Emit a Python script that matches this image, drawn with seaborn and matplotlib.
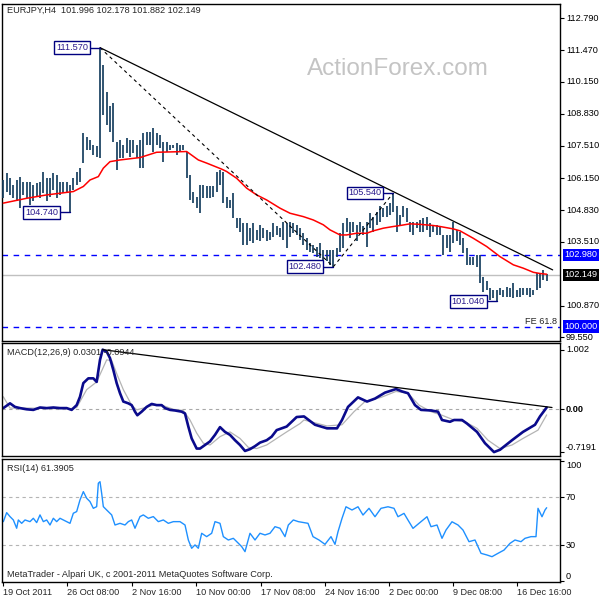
import matplotlib
matplotlib.use('Agg')
import matplotlib.pyplot as plt
import seaborn as sns

# --- price bars (H4, high / low), one entry per bar ---
high = [106.08, 106.36, 106.15, 105.88, 106.08, 106.22, 106.01, 106.01, 106.01, 105.88,
        105.95, 106.01, 106.43, 106.15, 106.15, 106.36, 106.29, 106.01, 106.01, 106.01,
        105.88, 106.15, 106.43, 106.57, 108.02, 107.88, 107.74, 107.54, 107.47, 111.57,
        110.85, 109.75, 109.13, 109.26, 107.67, 107.74, 107.54, 107.81, 107.74, 107.74,
        107.54, 107.74,
        108.02, 108.09, 108.09, 108.23, 108.02, 107.95, 107.67, 107.67, 107.54, 107.54,
        107.60, 107.54, 107.54, 107.26, 106.29, 105.60, 105.39, 105.88, 105.88, 105.81,
        105.81, 105.81, 106.43, 106.50, 106.43, 105.39, 105.25, 105.53, 104.49, 104.49,
        104.29, 104.29, 104.08, 104.29, 104.01, 104.22, 104.08, 104.01, 103.94, 104.29,
        104.15, 104.08,
        104.35, 104.29, 104.35, 104.29, 104.22, 104.08, 103.87, 103.66, 103.46, 103.39,
        103.32, 103.46, 103.18, 103.18, 103.18, 103.18, 103.25, 103.87, 104.29, 104.49,
        104.35, 104.35, 104.22, 104.35, 104.15, 104.35, 104.70, 104.56, 104.77, 104.98,
        104.91, 104.98, 105.12, 105.54, 104.98, 104.63, 104.98, 104.91, 104.35, 104.35,
        104.35, 104.42,
        104.49, 104.56, 104.29, 104.22, 104.22, 104.15, 103.80, 103.80, 103.80, 104.35,
        104.01, 103.94, 103.66, 103.25, 102.90, 102.90, 102.97, 102.97, 102.07, 101.87,
        101.59, 101.52, 101.52, 101.59, 101.52, 101.66, 101.59, 101.80, 101.52, 101.59,
        101.59, 101.59, 101.59, 101.52, 102.21, 102.21, 102.35, 102.18]
low = [105.32, 105.60, 105.46, 105.32, 105.19, 104.91, 105.46, 105.32, 105.05, 105.19,
       105.39, 105.32, 105.53, 105.19, 105.39, 105.67, 105.32, 105.46, 105.53, 105.60,
       104.74, 105.67, 105.88, 106.01, 106.78, 107.33, 107.33, 107.12, 107.05, 106.98,
       108.78, 108.37, 108.09, 107.67, 106.50, 106.98, 106.98, 107.19, 107.05, 107.19,
       106.98, 106.57,
       106.57, 107.54, 107.54, 107.26, 107.54, 107.40, 106.84, 107.26, 107.33, 107.40,
       107.12, 107.26, 107.33, 106.15, 105.25, 105.12, 104.91, 104.70, 105.32, 105.32,
       105.32, 105.39, 105.60, 105.88, 105.12, 104.91, 104.91, 104.49, 104.08, 103.94,
       103.39, 103.39, 103.53, 103.46, 103.59, 103.53, 103.66, 103.53, 103.59, 103.73,
       103.80, 103.73,
       103.59, 103.25, 103.73, 103.87, 103.80, 103.59, 103.39, 103.18, 103.11, 103.04,
       102.90, 102.83, 102.63, 102.70, 102.56, 102.48, 102.90, 103.11, 103.25, 103.94,
       103.66, 103.94, 103.53, 103.94, 103.80, 103.32, 104.08, 103.94, 104.22, 104.35,
       104.56, 104.56, 104.63, 104.77, 103.94, 104.22, 104.56, 104.35, 103.94, 103.80,
       104.08, 103.94,
       103.94, 104.01, 103.73, 103.94, 103.80, 103.80, 102.97, 103.25, 103.11, 103.46,
       103.53, 103.39, 103.04, 102.56, 102.56, 102.56, 102.49, 101.80, 101.45, 101.52,
       101.10, 101.17, 101.04, 101.31, 101.24, 101.24, 101.24, 101.17, 101.24, 101.24,
       101.31, 101.31, 101.24, 101.31, 101.52, 101.59, 101.93, 101.88]
bar_idx = list(range(len(high)))

# moving average (red)
ma_x = [0, 7, 13, 21, 24, 26, 28.5, 30, 32, 35, 41, 46, 55, 58.5, 61, 65.5, 67, 70, 73, 76,
        79, 83, 86, 90, 93, 96, 98, 101, 103, 106, 109, 111, 114, 117, 119, 122, 125, 129,
        131, 135, 137, 141, 145, 149, 153, 156, 159, 161, 163]
ma_y = [105.12, 105.32, 105.46, 105.60, 105.81, 106.08, 106.22, 106.57, 106.84, 106.91,
        107.01, 107.23, 107.26, 106.91, 106.78, 106.53, 106.43, 106.15, 105.74, 105.46,
        105.25, 104.91, 104.70, 104.56, 104.42, 104.22, 104.01, 103.80, 103.80, 103.87,
        103.87, 103.97, 104.08, 104.15, 104.19, 104.26, 104.24, 104.19, 104.15, 104.05,
        103.97, 103.66, 103.32, 102.90, 102.56, 102.42, 102.25, 102.20, 102.17]

# trend line and FE points
trend_x = [29, 164.8]
trend_y = [111.57, 102.35]
fe_x = [29, 99, 117]
fe_y = [111.57, 102.48, 105.54]

# swing labels
tag_bars = [29, 20, 99, 117, 148]
tag_prices = [111.57, 104.74, 102.48, 105.54, 101.04]

price_ticks = [112.79, 111.47, 110.15, 108.83, 107.51, 106.15, 104.83, 103.51, 100.87, 99.55]
level_blue = [102.98, 100.0]
last_price = 102.149

# MACD(12,26,9)
macd_x = [0, 2, 3.5, 5, 7, 9, 11, 13, 15, 17, 19, 20.5, 22, 23, 24, 25.5, 27, 28, 29, 29.8,
          31, 32, 33, 34, 35, 36, 37.5, 38.5, 39.5, 40.2, 41.5, 43, 44.5, 46, 47.5, 48.5, 50,
          51.5, 53.5, 54.5, 55.5, 56.5, 58, 59, 60.5, 62, 63.5, 65, 66.5, 68, 69.5, 71, 72.5,
          74, 75.5, 77, 79, 80.5, 82, 83.5, 85, 86.5, 88, 90.2, 93.5, 97.1, 100.1, 101.6,
          103.4, 106.4, 109.1, 111.5, 114.5, 117.8, 119.6, 121.4, 123.5, 125.3, 128.3, 130.4,
          131.6, 134, 135.2, 137.6, 139.1, 142.1, 144.5, 147.2, 149, 152.6, 155.9, 159.5, 161, 163]
macd = [0.02, 0.10, 0.04, 0.02, 0.0, -0.01, 0.03, 0.02, 0.03, 0.02, 0.02, -0.01, 0.07, 0.21,
        0.44, 0.52, 0.52, 0.46, 0.83, 1.002, 0.97, 0.86, 0.66, 0.44, 0.27, 0.13, 0.10, 0.07,
        -0.04, -0.10, -0.04, 0.04, 0.09, 0.07, 0.07, 0.02, -0.01, -0.02, -0.04, -0.07, -0.29,
        -0.49, -0.66, -0.66, -0.60, -0.54, -0.43, -0.30, -0.38, -0.43, -0.52, -0.60, -0.70,
        -0.67, -0.62, -0.56, -0.52, -0.46, -0.35, -0.32, -0.29, -0.21, -0.13, -0.12, -0.26,
        -0.32, -0.32, -0.18, 0.04, 0.20, 0.13, 0.18, 0.28, 0.34, 0.30, 0.27, 0.07, -0.01,
        -0.02, -0.04, -0.18, -0.21, -0.18, -0.18, -0.24, -0.38, -0.57, -0.7191, -0.68, -0.52,
        -0.38, -0.26, -0.12, 0.0301]
sig_x = [0, 2, 8, 14, 20, 22, 25, 28, 31, 32.5, 34, 36, 38.5, 40, 42, 45, 48, 51, 54, 56, 58,
         60, 62, 65, 68, 71, 73.5, 76, 79, 82, 85, 89, 90.2, 97.1, 101.6, 105.2, 108.5, 113.3,
         117.8, 121.4, 124.7, 128.3, 131.6, 135.2, 138.5, 142.1, 145.4, 149, 152.6, 155.9,
         160.4, 163]
signal = [0.21, 0.02, 0.02, 0.01, 0.01, 0.03, 0.33, 0.46, 0.83, 0.82, 0.60, 0.33, 0.07, -0.01,
          0.02, 0.07, 0.06, 0.0, -0.02, -0.18, -0.40, -0.57, -0.60, -0.46, -0.38, -0.49, -0.64,
          -0.66, -0.60, -0.49, -0.38, -0.24, -0.18, -0.28, -0.26, -0.04, 0.13, 0.20, 0.30,
          0.27, 0.07, -0.04, -0.10, -0.18, -0.21, -0.32, -0.52, -0.66, -0.60, -0.49, -0.35,
          -0.0944]
macd_tl_x = [29.8, 164.6]
macd_tl_y = [1.002, 0.03]

# RSI(14)
rsi_x = [0, 1, 2, 3, 4, 4.5, 5.5, 6.5, 8, 9, 10, 11, 12, 13, 14, 15, 16, 17, 18, 19, 20, 21, 22,
         23, 24, 25, 26, 27, 28, 28.5, 29, 29.5, 30, 31, 32.5, 33.5, 35, 36.5, 37.5, 38.5, 39.5,
         41, 42, 43.5, 45, 46.5, 48, 49.5, 51, 53, 54.5, 55.5, 56.5, 57.5, 58.5, 59.5, 61, 62.5,
         63.5, 65, 66, 67.5, 69, 70.5, 71.5, 72.5, 74, 75.5, 77, 78.5, 80, 81.5, 83, 84.5, 85.5,
         87, 88.5, 91.4, 92.9, 94.7, 96.5, 98.3, 99.5, 100.4, 101.6, 102.8, 104.6, 106.4,
         107.9, 109.7, 111.5, 113.3, 115.4, 117.2, 118.4, 120.2, 121.4, 122.9, 124.7, 127.1,
         128.3, 130.1, 131.6, 132.8, 134.6, 136.4, 137.9, 139.7, 141.5, 143.3, 145.1, 146.6,
         148.4, 150.2, 152, 153.5, 155.3, 156.5, 158.3, 159.8, 160.4, 161.6, 162.5, 163]
rsi = [49.8, 57.3, 54.0, 51.2, 44.3, 51.2, 48.4, 51.2, 49.8, 52.6, 49.0, 55.4, 49.8, 51.2, 47.0,
       52.6, 49.8, 52.6, 51.2, 49.8, 48.4, 56.8, 58.2, 67.9, 74.8, 69.3, 66.5, 60.9, 62.3, 81.8,
       83.1, 73.4, 62.3, 59.5, 55.4, 47.0, 48.4, 47.0, 49.8, 51.2, 44.3, 54.0, 55.4, 52.6, 54.0,
       49.8, 51.2, 48.4, 49.8, 49.8, 47.0, 34.5, 27.6, 30.4, 27.6, 40.1, 37.3, 40.1, 49.8, 48.4,
       37.3, 34.5, 35.9, 31.8, 29.0, 24.8, 40.1, 34.5, 40.1, 38.7, 40.1, 45.6, 44.3, 37.3, 47.0,
       51.2, 49.8, 48.4, 37.3, 34.5, 30.9, 37.3, 30.9, 41.4, 52.5, 62.2, 59.5, 62.2, 55.3, 60.9,
       53.9, 60.9, 62.2, 60.9, 53.9, 56.7, 51.1, 44.2, 48.4, 53.9, 45.6, 47.0, 35.9, 42.8, 49.7,
       47.0, 42.8, 33.1, 34.5, 23.4, 22.0, 20.6, 23.4, 26.1, 31.7, 34.5, 33.1, 35.9, 37.3, 37.3,
       60.9, 53.9, 59.5, 61.39]

date_ticks = [0, 19.1, 38.6, 57.8, 77.3, 96.5, 115.7, 134.9, 154.1]
date_labels = ['19 Oct 2011', '26 Oct 08:00', '2 Nov 16:00', '10 Nov 00:00', '17 Nov 08:00',
               '24 Nov 16:00', '2 Dec 00:00', '9 Dec 08:00', '16 Dec 16:00']

sns.set_style('white')
plt.rcParams['font.family'] = ['Liberation Sans', 'DejaVu Sans']
FS = 6.6
NAVY = '#000080'

fig = plt.figure(figsize=(6, 6), dpi=100)


def panel(top, bottom):
    # pixel rows -> figure fraction
    return fig.add_axes([1.5 / 600, 1 - bottom / 600, 558.5 / 600, (bottom - top) / 600])


ax = panel(4, 341)
ax_m = panel(343, 456)
ax_r = panel(459, 582)

for a in (ax, ax_m, ax_r):
    a.set_xlim(-0.55, 167)
    for s in a.spines.values():
        s.set_visible(True)
        s.set_color('black')
        s.set_linewidth(1)
    a.tick_params(axis='y', left=False, right=True, labelleft=False, labelright=False,
                  length=3, width=0.8, direction='out', color='black')


def right_label(a, val, txt, fc=None, va='center', weight='normal'):
    if fc is None:
        a.text(1.0107, val, txt, transform=a.get_yaxis_transform(), ha='left', va=va,
               fontsize=FS, color='black', clip_on=False, fontweight=weight)
    else:
        a.text(1.0075, val, txt, transform=a.get_yaxis_transform(), ha='left', va=va,
               fontsize=FS, color='white', clip_on=False,
               bbox=dict(boxstyle='square,pad=0.18', fc=fc, ec='none'))


# --- main price panel ---
ax.set_ylim(99.40, 113.38)
ax.vlines(bar_idx, low, high, color='#173f5f', lw=1.25, zorder=3)
sns.lineplot(x=ma_x, y=ma_y, ax=ax, color='#ff0000', lw=1.1, estimator=None, sort=False, zorder=4)
ax.axhline(last_price, color='#c0c0c0', lw=1, zorder=1)
for lv in level_blue:
    ax.axhline(lv, color='#0000ff', lw=1, ls=(0, (4, 4)), zorder=2)
ax.plot(trend_x, trend_y, color='black', lw=0.9, zorder=5)
ax.plot(fe_x, fe_y, color='black', lw=0.8, ls=(0, (3, 3)), zorder=5)

for b, p in zip(tag_bars, tag_prices):
    ax.plot([b - 3, b], [p, p], color=NAVY, lw=1, zorder=6)
    ax.text(b - 3.55, p, f'{p:.3f}', ha='right', va='center', fontsize=FS, color='#2b1a8c',
            zorder=7, bbox=dict(boxstyle='square,pad=0.2', fc='white', ec=NAVY, lw=1))

ax.set_yticks(price_ticks)
ax.set_xticks([])
for v in price_ticks:
    right_label(ax, v, f'{v:.3f}')
right_label(ax, 102.98, '102.980', fc='#0000ff')
right_label(ax, last_price, '102.149', fc='black')
right_label(ax, 100.0, '100.000', fc='#0000ff')

ax.text(0.0098, 0.982, 'EURJPY,H4  101.996 102.178 101.882 102.149', transform=ax.transAxes,
        ha='left', va='center', fontsize=FS)
ax.text(0.547, 0.807, 'ActionForex.com', transform=ax.transAxes, ha='left', va='center',
        fontsize=17.5, color='#c4c4c4', zorder=0)
ax.text(0.9946, 100.19, 'FE 61.8', transform=ax.get_yaxis_transform(), ha='right',
        va='center', fontsize=FS)
ax.set_xlabel('')
ax.set_ylabel('')

# --- MACD panel ---
ax_m.set_ylim(-0.785, 1.114)
ax_m.axhline(0, color='#a8a8a8', lw=0.8, ls=(0, (3, 3)))
sns.lineplot(x=sig_x, y=signal, ax=ax_m, color='#b4b4b4', lw=0.9, estimator=None, sort=False)
sns.lineplot(x=macd_x, y=macd, ax=ax_m, color='#0a0a8c', lw=1.9, estimator=None, sort=False)
ax_m.plot(macd_tl_x, macd_tl_y, color='black', lw=0.9)
ax_m.set_yticks([1.002, 0.0, -0.7191])
ax_m.set_xticks([])
right_label(ax_m, 1.002, '1.002')
right_label(ax_m, 0.0, '0.00', weight='bold')
right_label(ax_m, -0.7191, '-0.7191', va='bottom')
ax_m.text(0.0098, 0.912, 'MACD(12,26,9) 0.0301 -0.0944', transform=ax_m.transAxes,
          ha='left', va='center', fontsize=FS)
ax_m.set_xlabel('')
ax_m.set_ylabel('')

# --- RSI panel ---
ax_r.set_ylim(-0.5, 102.0)
for lv in (70, 30):
    ax_r.axhline(lv, color='#b4b4b4', lw=0.8, ls=(0, (3, 3)))
sns.lineplot(x=rsi_x, y=rsi, ax=ax_r, color='#1e90ff', lw=1.0, estimator=None, sort=False)
ax_r.set_yticks([100, 70, 30, 0])
right_label(ax_r, 100, '100', va='top')
right_label(ax_r, 70, '70')
right_label(ax_r, 30, '30')
right_label(ax_r, 0, '0', va='bottom')
ax_r.text(0.0098, 0.919, 'RSI(14) 61.3905', transform=ax_r.transAxes, ha='left', va='center',
          fontsize=FS)
ax_r.text(0.0098, 0.057, 'MetaTrader - Alpari UK, c 2001-2011 MetaQuotes Software Corp.',
          transform=ax_r.transAxes, ha='left', va='center', fontsize=FS)
ax_r.set_xticks(date_ticks)
ax_r.set_xticklabels(date_labels, ha='left', fontsize=FS)
ax_r.tick_params(axis='x', bottom=True, length=3, width=0.8, direction='out', pad=1.5,
                 color='black')
ax_r.set_xlabel('')
ax_r.set_ylabel('')

fig.savefig('out.png', dpi=100)
